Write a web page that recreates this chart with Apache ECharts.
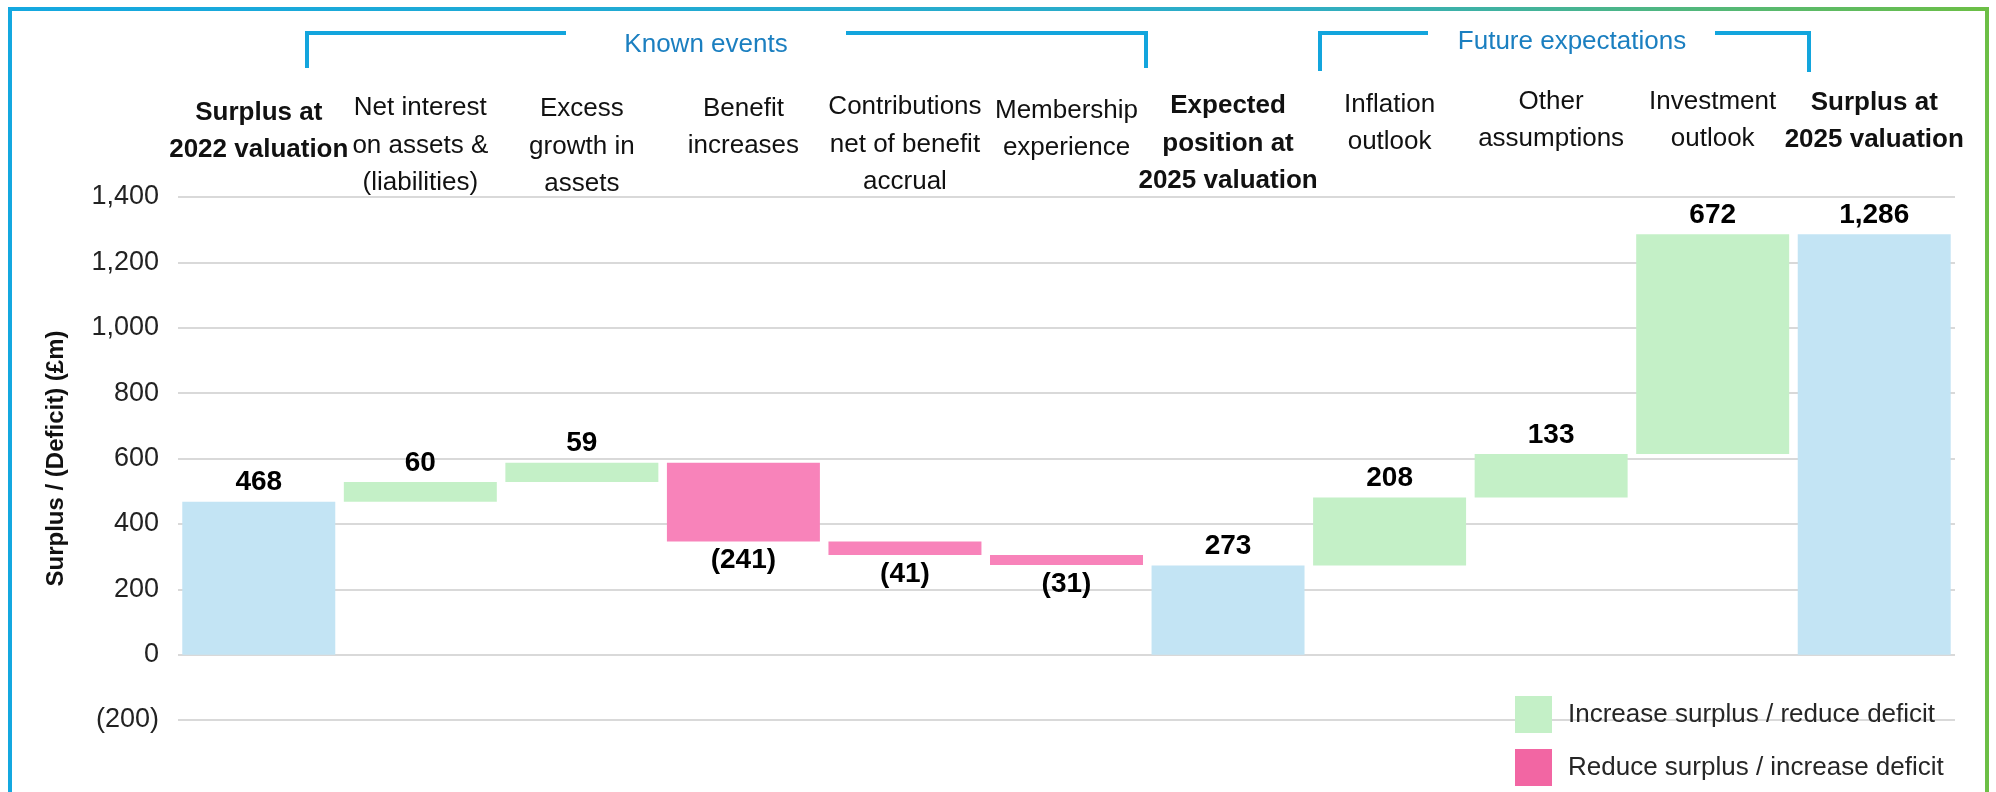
<!DOCTYPE html>
<html>
<head>
<meta charset="utf-8">
<title>Surplus waterfall</title>
<script src="https://cdn.jsdelivr.net/npm/echarts@6/dist/echarts.min.js"></script>
<style>
  html, body { margin: 0; padding: 0; background: #fff; }
  #chart { width: 1996px; height: 792px; }
</style>
</head>
<body>
<div id="chart"></div>
<script>
// categories along the top (bold ones are the totals)
const categories = [
  "Surplus at\n2022 valuation",
  "Net interest\non assets &\n(liabilities)",
  "Excess\ngrowth in\nassets",
  "Benefit\nincreases",
  "Contributions\nnet of benefit\naccrual",
  "Membership\nexperience",
  "Expected\nposition at\n2025 valuation",
  "Inflation\noutlook",
  "Other\nassumptions",
  "Investment\noutlook",
  "Surplus at\n2025 valuation"
];
const isTotal = [true, false, false, false, false, false, true, false, false, false, true];
const values = [468, 60, 59, -241, -41, -31, 273, 208, 133, 672, 1286];
// how far each label block sits above the lowest one (px)
const labelLift = [34, 1, 0, 38, 2, 36, 3, 42, 45, 45, 44];

const yTicks = { min: -200, max: 1400, step: 200 };
const legendNames = ["Increase surplus / reduce deficit", "Reduce surplus / increase deficit"];

const FONT = "'Liberation Sans', Arial, Helvetica, sans-serif";

// build the waterfall stacks
let base = [], totals = [], incs = [], decs = [];
let running = 0;
values.forEach((v, i) => {
  if (isTotal[i]) {
    running = v;
    base.push(0); totals.push(v); incs.push("-"); decs.push("-");
  } else if (v >= 0) {
    base.push(running); totals.push("-"); incs.push(v); decs.push("-");
    running += v;
  } else {
    running += v;
    base.push(running); totals.push("-"); incs.push("-"); decs.push(-v);
  }
});

function fmt(n) {
  return Math.abs(n).toLocaleString("en-US");
}

const myChart = echarts.init(document.getElementById("chart"));

const labelStyle = {
  show: true,
  fontFamily: FONT,
  fontSize: 28,
  fontWeight: "bold",
  color: "#000",
  distance: 5
};

function legendBlock(name, color, top) {
  return {
    left: 1510,
    top: top,
    itemWidth: 37,
    itemHeight: 37,
    icon: "rect",
    selectedMode: false,
    textStyle: { fontFamily: FONT, fontSize: 26, color: "#262626", padding: [0, 0, 0, 11] },
    data: [{ name: name, itemStyle: { color: color } }]
  };
}

const option = {
  backgroundColor: "#fff",
  animation: false,
  textStyle: { fontFamily: FONT },
  grid: { left: 178, right: 41, top: 197, bottom: 72, outerBoundsMode: "none" },
  legend: [
    legendBlock(legendNames[0], "#c4f0c7", 691),
    legendBlock(legendNames[1], "#f266a3", 744)
  ],
  xAxis: {
    type: "category",
    position: "top",
    data: categories.map((c, i) => ({
      value: c,
      textStyle: {
        fontWeight: isTotal[i] ? "bold" : "normal",
        padding: [0, 0, labelLift[i], 0]
      }
    })),
    axisLine: { show: false },
    axisTick: { show: false },
    splitLine: { show: false },
    axisLabel: {
      interval: 0,
      margin: -6,
      fontFamily: FONT,
      fontSize: 26,
      lineHeight: 37.5,
      color: "#111"
    }
  },
  yAxis: {
    type: "value",
    min: yTicks.min,
    max: yTicks.max,
    interval: yTicks.step,
    name: "Surplus / (Deficit) (£m)",
    nameLocation: "middle",
    nameGap: 110,
    nameTextStyle: { fontFamily: FONT, fontSize: 24, fontWeight: "bold", color: "#111" },
    axisLine: { show: false },
    axisTick: { show: false },
    axisLabel: {
      margin: 19,
      fontFamily: FONT,
      fontSize: 27,
      color: "#222",
      formatter: v => (v < 0 ? "(" + fmt(v) + ")" : fmt(v))
    },
    splitLine: { lineStyle: { color: "#d9d9d9", width: 2 } }
  },
  series: [
    {
      name: "base",
      type: "bar",
      stack: "wf",
      barCategoryGap: "5.3%",
      silent: true,
      itemStyle: { color: "transparent" },
      data: base
    },
    {
      name: "total",
      type: "bar",
      stack: "wf",
      itemStyle: { color: "#c3e4f4" },
      label: Object.assign({}, labelStyle, {
        position: "top",
        formatter: p => fmt(p.value)
      }),
      data: totals
    },
    {
      name: legendNames[0],
      type: "bar",
      stack: "wf",
      itemStyle: { color: "#c4f0c7" },
      label: Object.assign({}, labelStyle, {
        position: "top",
        formatter: p => fmt(p.value)
      }),
      data: incs
    },
    {
      name: legendNames[1],
      type: "bar",
      stack: "wf",
      itemStyle: { color: "#f883ba" },
      label: Object.assign({}, labelStyle, {
        position: "bottom",
        formatter: p => "(" + fmt(p.value) + ")"
      }),
      data: decs
    }
  ],
  graphic: [
    // outer frame, blue fading to green
    {
      type: "rect",
      silent: true,
      shape: { x: 10, y: 9, width: 1977, height: 830 },
      style: {
        fill: "none",
        lineWidth: 4,
        stroke: new echarts.graphic.LinearGradient(0, 0, 1, 0, [
          { offset: 0, color: "#14a8e0" },
          { offset: 0.65, color: "#2eadc6" },
          { offset: 1, color: "#6cbf45" }
        ])
      }
    },
    // "Known events" bracket
    {
      type: "polyline",
      silent: true,
      shape: { points: [[307, 68], [307, 33], [566, 33]] },
      style: { stroke: "#13a5dd", lineWidth: 4, fill: "none" }
    },
    {
      type: "polyline",
      silent: true,
      shape: { points: [[846, 33], [1146, 33], [1146, 68]] },
      style: { stroke: "#13a5dd", lineWidth: 4, fill: "none" }
    },
    {
      type: "text",
      silent: true,
      style: {
        x: 706, y: 45, text: "Known events",
        textAlign: "center", textVerticalAlign: "middle",
        font: "26px " + FONT, fill: "#1b7fc0"
      }
    },
    // "Future expectations" bracket
    {
      type: "polyline",
      silent: true,
      shape: { points: [[1320, 71], [1320, 33], [1428, 33]] },
      style: { stroke: "#13a5dd", lineWidth: 4, fill: "none" }
    },
    {
      type: "polyline",
      silent: true,
      shape: { points: [[1715, 33], [1809, 33], [1809, 72]] },
      style: { stroke: "#13a5dd", lineWidth: 4, fill: "none" }
    },
    {
      type: "text",
      silent: true,
      style: {
        x: 1572, y: 42, text: "Future expectations",
        textAlign: "center", textVerticalAlign: "middle",
        font: "26px " + FONT, fill: "#1b7fc0"
      }
    }
  ]
};

myChart.setOption(option, true);
</script>
</body>
</html>
